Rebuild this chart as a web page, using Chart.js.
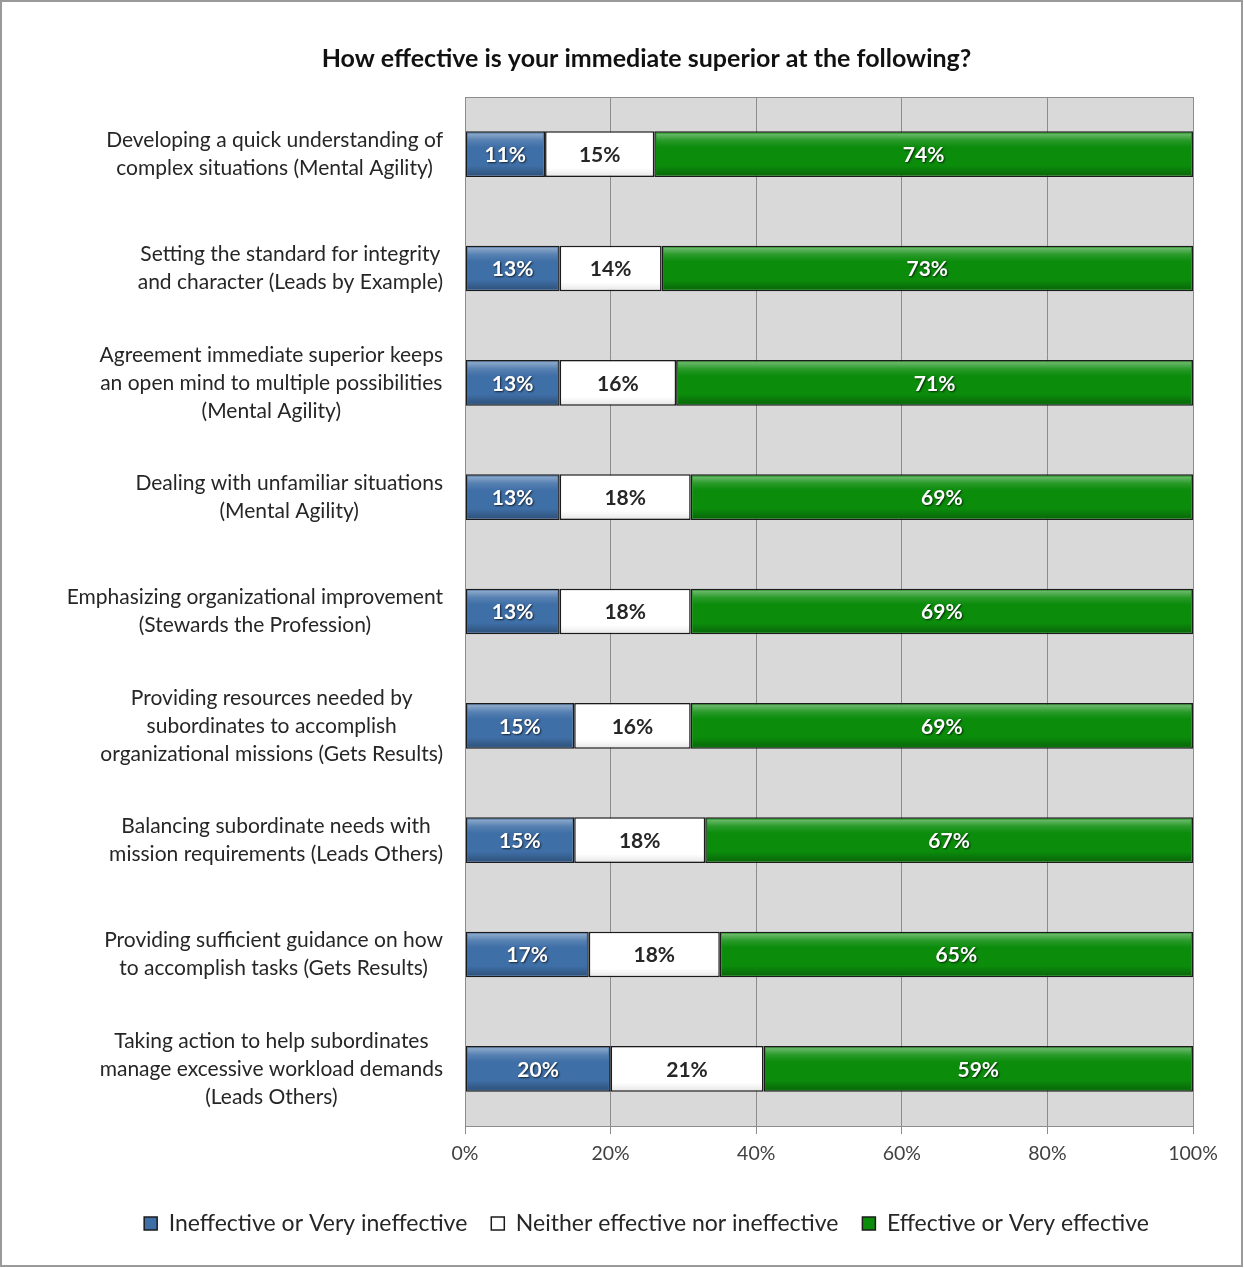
<!DOCTYPE html>
<html>
<head>
<meta charset="utf-8">
<script src="https://cdn.jsdelivr.net/npm/chart.js@4/dist/chart.umd.min.js"></script>
<style>
  html, body { margin: 0; padding: 0; background: #ffffff; }
  canvas { display: block; }
</style>
</head>
<body>
<canvas id="chart" width="1244" height="1268"></canvas>
<script>
// Survey items (each line of a label is one entry)
const categories = [
  ['Developing a quick understanding of', 'complex situations (Mental Agility)'],
  ['Setting the standard for integrity', 'and character (Leads by Example)'],
  ['Agreement immediate superior keeps', 'an open mind to multiple possibilities', '(Mental Agility)'],
  ['Dealing with unfamiliar situations', '(Mental Agility)'],
  ['Emphasizing organizational improvement', '(Stewards the Profession)'],
  ['Providing resources needed by', 'subordinates to accomplish', 'organizational missions (Gets Results)'],
  ['Balancing subordinate needs with', 'mission requirements (Leads Others)'],
  ['Providing sufficient guidance on how', 'to accomplish tasks (Gets Results)'],
  ['Taking action to help subordinates', 'manage excessive workload demands', '(Leads Others)']
];

// Percent of respondents per answer group
const ineffective = [11, 13, 13, 13, 13, 15, 15, 17, 20];
const neither     = [15, 14, 16, 18, 18, 16, 18, 18, 21];
const effective   = [74, 73, 71, 69, 69, 69, 67, 65, 59];

const seriesNames = ['Ineffective or Very ineffective', 'Neither effective nor ineffective', 'Effective or Very effective'];
const xTickValues = [0, 20, 40, 60, 80, 100];

const FONT = "Lato, 'Open Sans', 'DejaVu Sans', sans-serif";
const TEXT = '#262626';

// Grey plot background and frame
const plotBackground = {
  id: 'plotBackground',
  beforeDraw(chart) {
    const { ctx, chartArea: a } = chart;
    ctx.save();
    ctx.fillStyle = '#d9d9d9';
    ctx.fillRect(a.left, a.top, a.right - a.left, a.bottom - a.top);
    ctx.restore();
  },
  afterDraw(chart) {
    const { ctx, chartArea: a, width, height } = chart;
    ctx.save();
    ctx.strokeStyle = '#8c8c8c';
    ctx.lineWidth = 1;
    ctx.strokeRect(a.left + 0.5, a.top + 0.5, a.right - a.left, a.bottom - a.top);
    // outer frame of the figure
    ctx.strokeStyle = '#9a9a9a';
    ctx.lineWidth = 2;
    ctx.strokeRect(1, 1, width - 3, height - 3);
    ctx.restore();
  }
};

// Bevel shading on bars plus centred value labels
const barDecor = {
  id: 'barDecor',
  afterDatasetsDraw(chart) {
    const { ctx } = chart;
    ctx.save();
    chart.data.datasets.forEach((ds, di) => {
      const meta = chart.getDatasetMeta(di);
      meta.data.forEach((el, i) => {
        const { x, y, base, height } = el.getProps(['x', 'y', 'base', 'height'], true);
        const left = Math.min(x, base), w = Math.abs(x - base);
        const top = y - height / 2;
        if (di !== 1) {
          // lighter strip along the top edge, darker toward the bottom
          const g = ctx.createLinearGradient(0, top, 0, top + height);
          g.addColorStop(0, 'rgba(255,255,255,0.0)');
          g.addColorStop(0.06, 'rgba(255,255,255,0.38)');
          g.addColorStop(0.2, 'rgba(255,255,255,0.12)');
          g.addColorStop(0.35, 'rgba(255,255,255,0)');
          g.addColorStop(0.75, 'rgba(0,0,0,0)');
          g.addColorStop(1, 'rgba(0,0,0,0.3)');
          ctx.fillStyle = g;
          ctx.fillRect(left + 2, top + 2, w - 4, height - 4);
        } else {
          const g = ctx.createLinearGradient(0, top, 0, top + height);
          g.addColorStop(0, 'rgba(0,0,0,0)');
          g.addColorStop(0.8, 'rgba(0,0,0,0)');
          g.addColorStop(1, 'rgba(0,0,0,0.10)');
          ctx.fillStyle = g;
          ctx.fillRect(left + 1, top + 1, w - 2, height - 2);
        }
        const v = ds.data[i];
        ctx.font = `bold 21px ${FONT}`;
        ctx.textAlign = 'center';
        ctx.textBaseline = 'middle';
        if (di === 1) {
          ctx.shadowColor = 'transparent';
          ctx.fillStyle = TEXT;
        } else {
          ctx.shadowColor = 'rgba(0,0,0,0.7)';
          ctx.shadowBlur = 2;
          ctx.shadowOffsetX = 1;
          ctx.shadowOffsetY = 1;
          ctx.fillStyle = '#ffffff';
        }
        ctx.fillText(v + '%', left + w / 2, y + 1);
        ctx.shadowColor = 'transparent';
        ctx.shadowBlur = 0; ctx.shadowOffsetX = 0; ctx.shadowOffsetY = 0;
      });
    });
    ctx.restore();
  }
};

// Category labels: block right-aligned to the axis, lines centred within the block
const categoryLabels = {
  id: 'categoryLabels',
  afterDraw(chart) {
    const { ctx } = chart;
    const yScale = chart.scales.y;
    const rightEdge = chart.chartArea.left - 22;
    const lineH = 28;
    ctx.save();
    ctx.font = `21px ${FONT}`;
    ctx.fillStyle = TEXT;
    ctx.textAlign = 'center';
    ctx.textBaseline = 'middle';
    chart.data.labels.forEach((lines, i) => {
      const cy = yScale.getPixelForTick(i);
      const widest = Math.max(...lines.map(l => ctx.measureText(l).width));
      const cx = rightEdge - widest / 2;
      const startY = cy - (lines.length - 1) * lineH / 2;
      lines.forEach((l, k) => ctx.fillText(l, cx, startY + k * lineH));
    });
    ctx.restore();
  }
};

new Chart(document.getElementById('chart'), {
  type: 'bar',
  data: {
    labels: categories,
    datasets: [
      { label: seriesNames[0], data: ineffective, backgroundColor: '#3f6fa7' },
      { label: seriesNames[1], data: neither,     backgroundColor: '#ffffff' },
      { label: seriesNames[2], data: effective,   backgroundColor: '#0b8c0b' }
    ].map(d => Object.assign(d, {
      borderColor: '#1b1b1b',
      borderWidth: 1.5,
      borderSkipped: false,
      barPercentage: 0.4,
      categoryPercentage: 1.0
    }))
  },
  options: {
    indexAxis: 'y',
    responsive: false,
    animation: false,
    devicePixelRatio: 1,
    layout: { padding: { left: 100, right: 51, top: 0, bottom: 23 } },
    scales: {
      x: {
        stacked: true,
        min: 0,
        max: 100,
        afterBuildTicks(scale) { scale.ticks = xTickValues.map(v => ({ value: v })); },
        afterFit(scale) { scale.height = 62; },
        ticks: {
          callback: v => v + '%',
          font: { family: FONT, size: 19.5 },
          color: '#404040',
          padding: 8,
          maxRotation: 0
        },
        grid: { color: '#8c8c8c', lineWidth: 1, tickLength: 8 },
        border: { color: '#8c8c8c' }
      },
      y: {
        stacked: true,
        afterFit(scale) { scale.width = 365; },
        ticks: { display: false },
        grid: { display: false },
        border: { display: false }
      }
    },
    plugins: {
      title: {
        display: true,
        text: 'How effective is your immediate superior at the following?',
        font: { family: FONT, size: 25, weight: 'bold' },
        color: '#111111',
        padding: { top: 44, bottom: 23 }
      },
      legend: {
        position: 'bottom',
        labels: {
          font: { family: FONT, size: 23 },
          color: TEXT,
          boxWidth: 13,
          boxHeight: 13,
          padding: 24
        }
      },
      tooltip: { enabled: false }
    }
  },
  plugins: [plotBackground, barDecor, categoryLabels]
});
</script>
</body>
</html>
